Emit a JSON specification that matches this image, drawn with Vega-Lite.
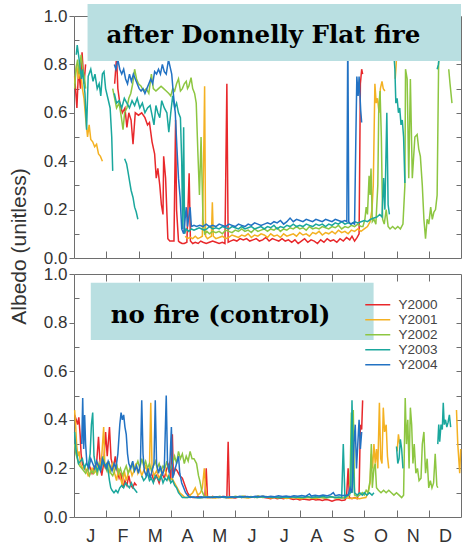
{
"$schema": "https://vega.github.io/schema/vega-lite/v6.json",
"padding": {"left": 8, "top": 3, "right": 0, "bottom": 0},
"background": "white",
"config": {
  "font": "Liberation Sans",
  "view": {"stroke": null},
  "axis": {"grid": false, "domainColor": "#6e6e6e", "tickColor": "#6e6e6e", "domainWidth": 1, "tickWidth": 1, "labelColor": "#333333", "labelFont": "Liberation Sans", "labelFontSize": 17, "titleFont": "Liberation Sans", "titleFontWeight": "normal", "titleColor": "#333333"},
  "line": {"strokeWidth": 1.5}
},
"datasets": {
"burned": [
{"m":0.02,"v":0.75,"yr":"Y2000","s":"a"},{"m":0.09,"v":0.62,"yr":"Y2000","s":"a"},{"m":0.14,"v":0.78,"yr":"Y2000","s":"a"},{"m":0.2,"v":0.7,"yr":"Y2000","s":"a"},{"m":0.25,"v":0.85,"yr":"Y2000","s":"a"},{"m":0.31,"v":0.72,"yr":"Y2000","s":"a"},{"m":0.36,"v":0.8,"yr":"Y2000","s":"a"},
{"m":1.26,"v":0.72,"yr":"Y2000","s":"b"},{"m":1.32,"v":0.83,"yr":"Y2000","s":"b"},{"m":1.36,"v":0.7,"yr":"Y2000","s":"b"},{"m":1.42,"v":0.64,"yr":"Y2000","s":"b"},{"m":1.5,"v":0.6,"yr":"Y2000","s":"b"},{"m":1.58,"v":0.62,"yr":"Y2000","s":"b"},{"m":1.64,"v":0.54,"yr":"Y2000","s":"b"},{"m":1.7,"v":0.6,"yr":"Y2000","s":"b"},{"m":1.77,"v":0.57,"yr":"Y2000","s":"b"},{"m":1.83,"v":0.47,"yr":"Y2000","s":"b"},{"m":1.9,"v":0.6,"yr":"Y2000","s":"b"},{"m":2.0,"v":0.59,"yr":"Y2000","s":"b"},{"m":2.1,"v":0.6,"yr":"Y2000","s":"b"},{"m":2.2,"v":0.58,"yr":"Y2000","s":"b"},{"m":2.28,"v":0.55,"yr":"Y2000","s":"b"},{"m":2.34,"v":0.56,"yr":"Y2000","s":"b"},{"m":2.42,"v":0.48,"yr":"Y2000","s":"b"},{"m":2.5,"v":0.43,"yr":"Y2000","s":"b"},{"m":2.55,"v":0.33,"yr":"Y2000","s":"b"},{"m":2.6,"v":0.37,"yr":"Y2000","s":"b"},{"m":2.66,"v":0.3,"yr":"Y2000","s":"b"},{"m":2.71,"v":0.22,"yr":"Y2000","s":"b"},{"m":2.76,"v":0.18,"yr":"Y2000","s":"b"},{"m":2.78,"v":0.42,"yr":"Y2000","s":"b"},{"m":2.84,"v":0.33,"yr":"Y2000","s":"b"},{"m":2.91,"v":0.08,"yr":"Y2000","s":"b"},{"m":2.97,"v":0.07,"yr":"Y2000","s":"b"},{"m":3.03,"v":0.07,"yr":"Y2000","s":"b"},{"m":3.1,"v":0.07,"yr":"Y2000","s":"b"},{"m":3.15,"v":0.57,"yr":"Y2000","s":"b"},{"m":3.18,"v":0.2,"yr":"Y2000","s":"b"},{"m":3.24,"v":0.07,"yr":"Y2000","s":"b"},{"m":3.28,"v":0.065,"yr":"Y2000","s":"b"},{"m":3.35,"v":0.06,"yr":"Y2000","s":"b"},{"m":3.42,"v":0.06,"yr":"Y2000","s":"b"},{"m":3.5,"v":0.065,"yr":"Y2000","s":"b"},{"m":3.57,"v":0.35,"yr":"Y2000","s":"b"},{"m":3.61,"v":0.07,"yr":"Y2000","s":"b"},{"m":3.68,"v":0.06,"yr":"Y2000","s":"b"},{"m":3.76,"v":0.065,"yr":"Y2000","s":"b"},{"m":3.85,"v":0.06,"yr":"Y2000","s":"b"},{"m":3.93,"v":0.07,"yr":"Y2000","s":"b"},{"m":4.0,"v":0.065,"yr":"Y2000","s":"b"},{"m":4.1,"v":0.06,"yr":"Y2000","s":"b"},{"m":4.2,"v":0.065,"yr":"Y2000","s":"b"},{"m":4.3,"v":0.07,"yr":"Y2000","s":"b"},{"m":4.4,"v":0.065,"yr":"Y2000","s":"b"},{"m":4.5,"v":0.06,"yr":"Y2000","s":"b"},{"m":4.6,"v":0.065,"yr":"Y2000","s":"b"},{"m":4.68,"v":0.06,"yr":"Y2000","s":"b"},{"m":4.74,"v":0.72,"yr":"Y2000","s":"b"},{"m":4.78,"v":0.065,"yr":"Y2000","s":"b"},{"m":4.85,"v":0.07,"yr":"Y2000","s":"b"},{"m":4.95,"v":0.075,"yr":"Y2000","s":"b"},{"m":5.05,"v":0.07,"yr":"Y2000","s":"b"},{"m":5.15,"v":0.08,"yr":"Y2000","s":"b"},{"m":5.25,"v":0.075,"yr":"Y2000","s":"b"},{"m":5.35,"v":0.08,"yr":"Y2000","s":"b"},{"m":5.45,"v":0.07,"yr":"Y2000","s":"b"},{"m":5.55,"v":0.075,"yr":"Y2000","s":"b"},{"m":5.65,"v":0.08,"yr":"Y2000","s":"b"},{"m":5.75,"v":0.07,"yr":"Y2000","s":"b"},{"m":5.85,"v":0.075,"yr":"Y2000","s":"b"},{"m":5.95,"v":0.085,"yr":"Y2000","s":"b"},{"m":6.05,"v":0.07,"yr":"Y2000","s":"b"},{"m":6.15,"v":0.08,"yr":"Y2000","s":"b"},{"m":6.25,"v":0.075,"yr":"Y2000","s":"b"},{"m":6.35,"v":0.07,"yr":"Y2000","s":"b"},{"m":6.45,"v":0.08,"yr":"Y2000","s":"b"},{"m":6.55,"v":0.07,"yr":"Y2000","s":"b"},{"m":6.65,"v":0.075,"yr":"Y2000","s":"b"},{"m":6.75,"v":0.065,"yr":"Y2000","s":"b"},{"m":6.85,"v":0.075,"yr":"Y2000","s":"b"},{"m":6.95,"v":0.06,"yr":"Y2000","s":"b"},{"m":7.05,"v":0.07,"yr":"Y2000","s":"b"},{"m":7.15,"v":0.08,"yr":"Y2000","s":"b"},{"m":7.25,"v":0.065,"yr":"Y2000","s":"b"},{"m":7.35,"v":0.075,"yr":"Y2000","s":"b"},{"m":7.45,"v":0.07,"yr":"Y2000","s":"b"},{"m":7.55,"v":0.06,"yr":"Y2000","s":"b"},{"m":7.65,"v":0.075,"yr":"Y2000","s":"b"},{"m":7.75,"v":0.065,"yr":"Y2000","s":"b"},{"m":7.85,"v":0.08,"yr":"Y2000","s":"b"},{"m":7.95,"v":0.07,"yr":"Y2000","s":"b"},{"m":8.05,"v":0.075,"yr":"Y2000","s":"b"},{"m":8.15,"v":0.065,"yr":"Y2000","s":"b"},{"m":8.25,"v":0.08,"yr":"Y2000","s":"b"},{"m":8.35,"v":0.07,"yr":"Y2000","s":"b"},{"m":8.45,"v":0.085,"yr":"Y2000","s":"b"},{"m":8.55,"v":0.075,"yr":"Y2000","s":"b"},{"m":8.62,"v":0.09,"yr":"Y2000","s":"b"},{"m":8.7,"v":0.07,"yr":"Y2000","s":"b"},{"m":8.78,"v":0.085,"yr":"Y2000","s":"b"},{"m":8.84,"v":0.1,"yr":"Y2000","s":"b"},{"m":8.88,"v":0.72,"yr":"Y2000","s":"b"},{"m":8.92,"v":0.78,"yr":"Y2000","s":"b"},{"m":8.95,"v":0.76,"yr":"Y2000","s":"b"},
{"m":0.02,"v":0.72,"yr":"Y2001","s":"a"},{"m":0.08,"v":0.8,"yr":"Y2001","s":"a"},{"m":0.14,"v":0.74,"yr":"Y2001","s":"a"},{"m":0.2,"v":0.78,"yr":"Y2001","s":"a"},{"m":0.26,"v":0.7,"yr":"Y2001","s":"a"},{"m":0.31,"v":0.66,"yr":"Y2001","s":"a"},{"m":0.36,"v":0.58,"yr":"Y2001","s":"a"},{"m":0.42,"v":0.5,"yr":"Y2001","s":"a"},{"m":0.47,"v":0.55,"yr":"Y2001","s":"a"},{"m":0.52,"v":0.49,"yr":"Y2001","s":"a"},{"m":0.58,"v":0.48,"yr":"Y2001","s":"a"},{"m":0.64,"v":0.46,"yr":"Y2001","s":"a"},{"m":0.7,"v":0.47,"yr":"Y2001","s":"a"},{"m":0.76,"v":0.43,"yr":"Y2001","s":"a"},{"m":0.82,"v":0.42,"yr":"Y2001","s":"a"},{"m":0.88,"v":0.4,"yr":"Y2001","s":"a"},
{"m":3.45,"v":0.09,"yr":"Y2001","s":"b"},{"m":3.52,"v":0.08,"yr":"Y2001","s":"b"},{"m":3.6,"v":0.085,"yr":"Y2001","s":"b"},{"m":3.68,"v":0.08,"yr":"Y2001","s":"b"},{"m":3.76,"v":0.09,"yr":"Y2001","s":"b"},{"m":3.84,"v":0.08,"yr":"Y2001","s":"b"},{"m":3.92,"v":0.085,"yr":"Y2001","s":"b"},{"m":3.98,"v":0.09,"yr":"Y2001","s":"b"},{"m":4.03,"v":0.5,"yr":"Y2001","s":"b"},{"m":4.05,"v":0.71,"yr":"Y2001","s":"b"},{"m":4.08,"v":0.09,"yr":"Y2001","s":"b"},{"m":4.14,"v":0.08,"yr":"Y2001","s":"b"},{"m":4.2,"v":0.085,"yr":"Y2001","s":"b"},{"m":4.26,"v":0.09,"yr":"Y2001","s":"b"},{"m":4.29,"v":0.23,"yr":"Y2001","s":"b"},{"m":4.32,"v":0.09,"yr":"Y2001","s":"b"},{"m":4.4,"v":0.08,"yr":"Y2001","s":"b"},{"m":4.5,"v":0.085,"yr":"Y2001","s":"b"},{"m":4.6,"v":0.09,"yr":"Y2001","s":"b"},{"m":4.7,"v":0.08,"yr":"Y2001","s":"b"},{"m":4.8,"v":0.085,"yr":"Y2001","s":"b"},{"m":4.9,"v":0.095,"yr":"Y2001","s":"b"},{"m":5.0,"v":0.09,"yr":"Y2001","s":"b"},{"m":5.1,"v":0.085,"yr":"Y2001","s":"b"},{"m":5.2,"v":0.095,"yr":"Y2001","s":"b"},{"m":5.3,"v":0.09,"yr":"Y2001","s":"b"},{"m":5.4,"v":0.1,"yr":"Y2001","s":"b"},{"m":5.5,"v":0.085,"yr":"Y2001","s":"b"},{"m":5.6,"v":0.095,"yr":"Y2001","s":"b"},{"m":5.7,"v":0.09,"yr":"Y2001","s":"b"},{"m":5.8,"v":0.1,"yr":"Y2001","s":"b"},{"m":5.9,"v":0.095,"yr":"Y2001","s":"b"},{"m":6.0,"v":0.085,"yr":"Y2001","s":"b"},{"m":6.1,"v":0.1,"yr":"Y2001","s":"b"},{"m":6.2,"v":0.09,"yr":"Y2001","s":"b"},{"m":6.3,"v":0.095,"yr":"Y2001","s":"b"},{"m":6.4,"v":0.085,"yr":"Y2001","s":"b"},{"m":6.5,"v":0.1,"yr":"Y2001","s":"b"},{"m":6.6,"v":0.09,"yr":"Y2001","s":"b"},{"m":6.7,"v":0.095,"yr":"Y2001","s":"b"},{"m":6.8,"v":0.1,"yr":"Y2001","s":"b"},{"m":6.9,"v":0.09,"yr":"Y2001","s":"b"},{"m":7.0,"v":0.105,"yr":"Y2001","s":"b"},{"m":7.1,"v":0.095,"yr":"Y2001","s":"b"},{"m":7.2,"v":0.1,"yr":"Y2001","s":"b"},{"m":7.3,"v":0.09,"yr":"Y2001","s":"b"},{"m":7.4,"v":0.105,"yr":"Y2001","s":"b"},{"m":7.5,"v":0.1,"yr":"Y2001","s":"b"},{"m":7.6,"v":0.11,"yr":"Y2001","s":"b"},{"m":7.7,"v":0.095,"yr":"Y2001","s":"b"},{"m":7.8,"v":0.105,"yr":"Y2001","s":"b"},{"m":7.9,"v":0.1,"yr":"Y2001","s":"b"},{"m":8.0,"v":0.11,"yr":"Y2001","s":"b"},{"m":8.1,"v":0.1,"yr":"Y2001","s":"b"},{"m":8.2,"v":0.115,"yr":"Y2001","s":"b"},{"m":8.3,"v":0.105,"yr":"Y2001","s":"b"},{"m":8.4,"v":0.11,"yr":"Y2001","s":"b"},{"m":8.5,"v":0.1,"yr":"Y2001","s":"b"},{"m":8.6,"v":0.115,"yr":"Y2001","s":"b"},{"m":8.7,"v":0.11,"yr":"Y2001","s":"b"},{"m":8.8,"v":0.12,"yr":"Y2001","s":"b"},{"m":8.9,"v":0.11,"yr":"Y2001","s":"b"},{"m":9.0,"v":0.12,"yr":"Y2001","s":"b"},{"m":9.1,"v":0.13,"yr":"Y2001","s":"b"},{"m":9.18,"v":0.15,"yr":"Y2001","s":"b"},{"m":9.24,"v":0.2,"yr":"Y2001","s":"b"},{"m":9.28,"v":0.3,"yr":"Y2001","s":"b"},{"m":9.33,"v":0.72,"yr":"Y2001","s":"b"},{"m":9.37,"v":0.64,"yr":"Y2001","s":"b"},{"m":9.41,"v":0.66,"yr":"Y2001","s":"b"},{"m":9.46,"v":0.6,"yr":"Y2001","s":"b"},{"m":9.5,"v":0.7,"yr":"Y2001","s":"b"},{"m":9.55,"v":0.73,"yr":"Y2001","s":"b"},{"m":9.59,"v":0.7,"yr":"Y2001","s":"b"},{"m":9.64,"v":0.69,"yr":"Y2001","s":"b"},
{"m":9.96,"v":0.74,"yr":"Y2001","s":"c"},{"m":9.99,"v":0.8,"yr":"Y2001","s":"c"},{"m":10.03,"v":0.9,"yr":"Y2001","s":"c"},
{"m":0.02,"v":0.7,"yr":"Y2002","s":"a"},{"m":0.06,"v":0.78,"yr":"Y2002","s":"a"},{"m":0.11,"v":0.82,"yr":"Y2002","s":"a"},{"m":0.16,"v":0.76,"yr":"Y2002","s":"a"},{"m":0.22,"v":0.84,"yr":"Y2002","s":"a"},{"m":0.27,"v":0.78,"yr":"Y2002","s":"a"},{"m":0.32,"v":0.75,"yr":"Y2002","s":"a"},{"m":0.36,"v":0.7,"yr":"Y2002","s":"a"},
{"m":1.2,"v":0.7,"yr":"Y2002","s":"b"},{"m":1.26,"v":0.66,"yr":"Y2002","s":"b"},{"m":1.32,"v":0.62,"yr":"Y2002","s":"b"},{"m":1.4,"v":0.64,"yr":"Y2002","s":"b"},{"m":1.47,"v":0.58,"yr":"Y2002","s":"b"},{"m":1.52,"v":0.53,"yr":"Y2002","s":"b"},{"m":1.57,"v":0.6,"yr":"Y2002","s":"b"},{"m":1.64,"v":0.62,"yr":"Y2002","s":"b"},{"m":1.7,"v":0.66,"yr":"Y2002","s":"b"},{"m":1.76,"v":0.68,"yr":"Y2002","s":"b"},{"m":1.82,"v":0.72,"yr":"Y2002","s":"b"},{"m":1.88,"v":0.78,"yr":"Y2002","s":"b"},{"m":1.94,"v":0.74,"yr":"Y2002","s":"b"},{"m":2.0,"v":0.72,"yr":"Y2002","s":"b"},{"m":2.08,"v":0.71,"yr":"Y2002","s":"b"},{"m":2.16,"v":0.69,"yr":"Y2002","s":"b"},{"m":2.24,"v":0.7,"yr":"Y2002","s":"b"},{"m":2.32,"v":0.68,"yr":"Y2002","s":"b"},{"m":2.4,"v":0.76,"yr":"Y2002","s":"b"},{"m":2.46,"v":0.7,"yr":"Y2002","s":"b"},{"m":2.54,"v":0.69,"yr":"Y2002","s":"b"},{"m":2.62,"v":0.7,"yr":"Y2002","s":"b"},{"m":2.7,"v":0.71,"yr":"Y2002","s":"b"},{"m":2.78,"v":0.7,"yr":"Y2002","s":"b"},{"m":2.86,"v":0.69,"yr":"Y2002","s":"b"},{"m":2.94,"v":0.68,"yr":"Y2002","s":"b"},{"m":3.0,"v":0.67,"yr":"Y2002","s":"b"},{"m":3.06,"v":0.7,"yr":"Y2002","s":"b"},{"m":3.12,"v":0.69,"yr":"Y2002","s":"b"},{"m":3.18,"v":0.72,"yr":"Y2002","s":"b"},{"m":3.24,"v":0.74,"yr":"Y2002","s":"b"},{"m":3.3,"v":0.69,"yr":"Y2002","s":"b"},{"m":3.36,"v":0.7,"yr":"Y2002","s":"b"},{"m":3.42,"v":0.72,"yr":"Y2002","s":"b"},{"m":3.48,"v":0.73,"yr":"Y2002","s":"b"},{"m":3.52,"v":0.7,"yr":"Y2002","s":"b"},{"m":3.56,"v":0.71,"yr":"Y2002","s":"b"},{"m":3.63,"v":0.745,"yr":"Y2002","s":"b"},{"m":3.68,"v":0.7,"yr":"Y2002","s":"b"},{"m":3.74,"v":0.68,"yr":"Y2002","s":"b"},{"m":3.79,"v":0.64,"yr":"Y2002","s":"b"},{"m":3.84,"v":0.44,"yr":"Y2002","s":"b"},{"m":3.89,"v":0.26,"yr":"Y2002","s":"b"},{"m":3.94,"v":0.5,"yr":"Y2002","s":"b"},{"m":4.0,"v":0.16,"yr":"Y2002","s":"b"},{"m":4.05,"v":0.1,"yr":"Y2002","s":"b"},{"m":4.12,"v":0.11,"yr":"Y2002","s":"b"},{"m":4.2,"v":0.1,"yr":"Y2002","s":"b"},{"m":4.3,"v":0.11,"yr":"Y2002","s":"b"},{"m":4.4,"v":0.105,"yr":"Y2002","s":"b"},{"m":4.5,"v":0.11,"yr":"Y2002","s":"b"},{"m":4.6,"v":0.1,"yr":"Y2002","s":"b"},{"m":4.7,"v":0.115,"yr":"Y2002","s":"b"},{"m":4.8,"v":0.11,"yr":"Y2002","s":"b"},{"m":4.9,"v":0.105,"yr":"Y2002","s":"b"},{"m":5.0,"v":0.115,"yr":"Y2002","s":"b"},{"m":5.1,"v":0.11,"yr":"Y2002","s":"b"},{"m":5.2,"v":0.12,"yr":"Y2002","s":"b"},{"m":5.3,"v":0.11,"yr":"Y2002","s":"b"},{"m":5.4,"v":0.115,"yr":"Y2002","s":"b"},{"m":5.5,"v":0.105,"yr":"Y2002","s":"b"},{"m":5.6,"v":0.12,"yr":"Y2002","s":"b"},{"m":5.7,"v":0.11,"yr":"Y2002","s":"b"},{"m":5.8,"v":0.115,"yr":"Y2002","s":"b"},{"m":5.9,"v":0.12,"yr":"Y2002","s":"b"},{"m":6.0,"v":0.11,"yr":"Y2002","s":"b"},{"m":6.1,"v":0.12,"yr":"Y2002","s":"b"},{"m":6.2,"v":0.115,"yr":"Y2002","s":"b"},{"m":6.3,"v":0.125,"yr":"Y2002","s":"b"},{"m":6.4,"v":0.11,"yr":"Y2002","s":"b"},{"m":6.5,"v":0.12,"yr":"Y2002","s":"b"},{"m":6.6,"v":0.115,"yr":"Y2002","s":"b"},{"m":6.7,"v":0.125,"yr":"Y2002","s":"b"},{"m":6.8,"v":0.12,"yr":"Y2002","s":"b"},{"m":6.9,"v":0.13,"yr":"Y2002","s":"b"},{"m":7.0,"v":0.12,"yr":"Y2002","s":"b"},{"m":7.1,"v":0.125,"yr":"Y2002","s":"b"},{"m":7.2,"v":0.115,"yr":"Y2002","s":"b"},{"m":7.3,"v":0.13,"yr":"Y2002","s":"b"},{"m":7.4,"v":0.12,"yr":"Y2002","s":"b"},{"m":7.5,"v":0.125,"yr":"Y2002","s":"b"},{"m":7.6,"v":0.12,"yr":"Y2002","s":"b"},{"m":7.7,"v":0.13,"yr":"Y2002","s":"b"},{"m":7.8,"v":0.125,"yr":"Y2002","s":"b"},{"m":7.9,"v":0.12,"yr":"Y2002","s":"b"},{"m":8.0,"v":0.13,"yr":"Y2002","s":"b"},{"m":8.1,"v":0.125,"yr":"Y2002","s":"b"},{"m":8.2,"v":0.135,"yr":"Y2002","s":"b"},{"m":8.3,"v":0.12,"yr":"Y2002","s":"b"},{"m":8.4,"v":0.13,"yr":"Y2002","s":"b"},{"m":8.5,"v":0.125,"yr":"Y2002","s":"b"},{"m":8.6,"v":0.135,"yr":"Y2002","s":"b"},{"m":8.7,"v":0.13,"yr":"Y2002","s":"b"},{"m":8.8,"v":0.14,"yr":"Y2002","s":"b"},{"m":8.9,"v":0.13,"yr":"Y2002","s":"b"},{"m":8.96,"v":0.13,"yr":"Y2002","s":"b"},{"m":9.02,"v":0.16,"yr":"Y2002","s":"b"},{"m":9.06,"v":0.21,"yr":"Y2002","s":"b"},{"m":9.1,"v":0.18,"yr":"Y2002","s":"b"},{"m":9.15,"v":0.34,"yr":"Y2002","s":"b"},{"m":9.18,"v":0.26,"yr":"Y2002","s":"b"},{"m":9.21,"v":0.37,"yr":"Y2002","s":"b"},{"m":9.25,"v":0.15,"yr":"Y2002","s":"b"},{"m":9.3,"v":0.16,"yr":"Y2002","s":"b"},{"m":9.36,"v":0.14,"yr":"Y2002","s":"b"},{"m":9.42,"v":0.3,"yr":"Y2002","s":"b"},{"m":9.45,"v":0.62,"yr":"Y2002","s":"b"},{"m":9.49,"v":0.69,"yr":"Y2002","s":"b"},{"m":9.53,"v":0.5,"yr":"Y2002","s":"b"},{"m":9.57,"v":0.16,"yr":"Y2002","s":"b"},{"m":9.62,"v":0.14,"yr":"Y2002","s":"b"},{"m":9.68,"v":0.2,"yr":"Y2002","s":"b"},{"m":9.74,"v":0.13,"yr":"Y2002","s":"b"},{"m":9.8,"v":0.12,"yr":"Y2002","s":"b"},{"m":9.88,"v":0.13,"yr":"Y2002","s":"b"},{"m":9.96,"v":0.12,"yr":"Y2002","s":"b"},{"m":10.04,"v":0.13,"yr":"Y2002","s":"b"},{"m":10.12,"v":0.12,"yr":"Y2002","s":"b"},{"m":10.2,"v":0.14,"yr":"Y2002","s":"b"},{"m":10.26,"v":0.3,"yr":"Y2002","s":"b"},{"m":10.28,"v":0.78,"yr":"Y2002","s":"b"},{"m":10.33,"v":0.74,"yr":"Y2002","s":"b"},{"m":10.38,"v":0.33,"yr":"Y2002","s":"b"},{"m":10.43,"v":0.74,"yr":"Y2002","s":"b"},{"m":10.49,"v":0.33,"yr":"Y2002","s":"b"},{"m":10.57,"v":0.5,"yr":"Y2002","s":"b"},{"m":10.64,"v":0.51,"yr":"Y2002","s":"b"},{"m":10.69,"v":0.45,"yr":"Y2002","s":"b"},{"m":10.74,"v":0.42,"yr":"Y2002","s":"b"},{"m":10.8,"v":0.3,"yr":"Y2002","s":"b"},{"m":10.85,"v":0.16,"yr":"Y2002","s":"b"},{"m":10.9,"v":0.08,"yr":"Y2002","s":"b"},{"m":10.95,"v":0.16,"yr":"Y2002","s":"b"},{"m":11.0,"v":0.14,"yr":"Y2002","s":"b"},{"m":11.06,"v":0.21,"yr":"Y2002","s":"b"},{"m":11.11,"v":0.16,"yr":"Y2002","s":"b"},{"m":11.16,"v":0.19,"yr":"Y2002","s":"b"},{"m":11.21,"v":0.2,"yr":"Y2002","s":"b"},{"m":11.26,"v":0.26,"yr":"Y2002","s":"b"},{"m":11.31,"v":0.85,"yr":"Y2002","s":"b"},
{"m":11.62,"v":0.78,"yr":"Y2002","s":"c"},{"m":11.66,"v":0.72,"yr":"Y2002","s":"c"},{"m":11.72,"v":0.64,"yr":"Y2002","s":"c"},
{"m":0.07,"v":0.84,"yr":"Y2003","s":"a"},{"m":0.1,"v":0.88,"yr":"Y2003","s":"a"},{"m":0.17,"v":0.81,"yr":"Y2003","s":"a"},{"m":0.23,"v":0.74,"yr":"Y2003","s":"a"},{"m":0.26,"v":0.78,"yr":"Y2003","s":"a"},{"m":0.34,"v":0.68,"yr":"Y2003","s":"a"},{"m":0.39,"v":0.53,"yr":"Y2003","s":"a"},{"m":0.44,"v":0.75,"yr":"Y2003","s":"a"},{"m":0.52,"v":0.78,"yr":"Y2003","s":"a"},{"m":0.59,"v":0.73,"yr":"Y2003","s":"a"},{"m":0.65,"v":0.76,"yr":"Y2003","s":"a"},{"m":0.72,"v":0.7,"yr":"Y2003","s":"a"},{"m":0.78,"v":0.72,"yr":"Y2003","s":"a"},{"m":0.83,"v":0.67,"yr":"Y2003","s":"a"},{"m":0.88,"v":0.76,"yr":"Y2003","s":"a"},{"m":0.93,"v":0.77,"yr":"Y2003","s":"a"},{"m":0.98,"v":0.7,"yr":"Y2003","s":"a"},{"m":1.05,"v":0.66,"yr":"Y2003","s":"a"},{"m":1.12,"v":0.62,"yr":"Y2003","s":"a"},{"m":1.17,"v":0.5,"yr":"Y2003","s":"a"},{"m":1.2,"v":0.36,"yr":"Y2003","s":"a"},
{"m":1.57,"v":0.41,"yr":"Y2003","s":"b"},{"m":1.6,"v":0.4,"yr":"Y2003","s":"b"},{"m":1.63,"v":0.39,"yr":"Y2003","s":"b"},{"m":1.67,"v":0.36,"yr":"Y2003","s":"b"},{"m":1.72,"v":0.32,"yr":"Y2003","s":"b"},{"m":1.77,"v":0.28,"yr":"Y2003","s":"b"},{"m":1.83,"v":0.25,"yr":"Y2003","s":"b"},{"m":1.88,"v":0.21,"yr":"Y2003","s":"b"},{"m":1.93,"v":0.19,"yr":"Y2003","s":"b"},{"m":1.98,"v":0.16,"yr":"Y2003","s":"b"},
{"m":1.25,"v":0.68,"yr":"Y2003","s":"c"},{"m":1.32,"v":0.64,"yr":"Y2003","s":"c"},{"m":1.4,"v":0.65,"yr":"Y2003","s":"c"},{"m":1.48,"v":0.62,"yr":"Y2003","s":"c"},{"m":1.56,"v":0.66,"yr":"Y2003","s":"c"},{"m":1.64,"v":0.64,"yr":"Y2003","s":"c"},{"m":1.72,"v":0.62,"yr":"Y2003","s":"c"},{"m":1.8,"v":0.65,"yr":"Y2003","s":"c"},{"m":1.88,"v":0.63,"yr":"Y2003","s":"c"},{"m":1.96,"v":0.66,"yr":"Y2003","s":"c"},{"m":2.04,"v":0.62,"yr":"Y2003","s":"c"},{"m":2.12,"v":0.64,"yr":"Y2003","s":"c"},{"m":2.2,"v":0.6,"yr":"Y2003","s":"c"},{"m":2.28,"v":0.62,"yr":"Y2003","s":"c"},{"m":2.36,"v":0.63,"yr":"Y2003","s":"c"},{"m":2.42,"v":0.59,"yr":"Y2003","s":"c"},{"m":2.48,"v":0.55,"yr":"Y2003","s":"c"},{"m":2.54,"v":0.63,"yr":"Y2003","s":"c"},{"m":2.6,"v":0.6,"yr":"Y2003","s":"c"},{"m":2.66,"v":0.58,"yr":"Y2003","s":"c"},{"m":2.72,"v":0.65,"yr":"Y2003","s":"c"},{"m":2.8,"v":0.62,"yr":"Y2003","s":"c"},{"m":2.88,"v":0.6,"yr":"Y2003","s":"c"},{"m":2.94,"v":0.52,"yr":"Y2003","s":"c"},{"m":3.0,"v":0.6,"yr":"Y2003","s":"c"},{"m":3.06,"v":0.67,"yr":"Y2003","s":"c"},{"m":3.12,"v":0.62,"yr":"Y2003","s":"c"},{"m":3.18,"v":0.64,"yr":"Y2003","s":"c"},{"m":3.24,"v":0.6,"yr":"Y2003","s":"c"},{"m":3.3,"v":0.58,"yr":"Y2003","s":"c"},{"m":3.34,"v":0.4,"yr":"Y2003","s":"c"},{"m":3.37,"v":0.12,"yr":"Y2003","s":"c"},{"m":3.4,"v":0.54,"yr":"Y2003","s":"c"},{"m":3.43,"v":0.1,"yr":"Y2003","s":"c"},{"m":3.48,"v":0.12,"yr":"Y2003","s":"c"},{"m":3.56,"v":0.11,"yr":"Y2003","s":"c"},{"m":3.64,"v":0.12,"yr":"Y2003","s":"c"},{"m":3.72,"v":0.115,"yr":"Y2003","s":"c"},{"m":3.8,"v":0.12,"yr":"Y2003","s":"c"},{"m":3.88,"v":0.125,"yr":"Y2003","s":"c"},{"m":3.96,"v":0.12,"yr":"Y2003","s":"c"},{"m":4.04,"v":0.115,"yr":"Y2003","s":"c"},{"m":4.12,"v":0.12,"yr":"Y2003","s":"c"},{"m":4.2,"v":0.13,"yr":"Y2003","s":"c"},{"m":4.3,"v":0.12,"yr":"Y2003","s":"c"},{"m":4.4,"v":0.125,"yr":"Y2003","s":"c"},{"m":4.5,"v":0.12,"yr":"Y2003","s":"c"},{"m":4.6,"v":0.13,"yr":"Y2003","s":"c"},{"m":4.7,"v":0.125,"yr":"Y2003","s":"c"},{"m":4.8,"v":0.12,"yr":"Y2003","s":"c"},{"m":4.9,"v":0.13,"yr":"Y2003","s":"c"},{"m":5.0,"v":0.125,"yr":"Y2003","s":"c"},{"m":5.1,"v":0.12,"yr":"Y2003","s":"c"},{"m":5.2,"v":0.13,"yr":"Y2003","s":"c"},{"m":5.3,"v":0.12,"yr":"Y2003","s":"c"},{"m":5.4,"v":0.125,"yr":"Y2003","s":"c"},{"m":5.5,"v":0.13,"yr":"Y2003","s":"c"},{"m":5.6,"v":0.12,"yr":"Y2003","s":"c"},{"m":5.7,"v":0.125,"yr":"Y2003","s":"c"},{"m":5.8,"v":0.13,"yr":"Y2003","s":"c"},{"m":5.9,"v":0.12,"yr":"Y2003","s":"c"},{"m":6.0,"v":0.13,"yr":"Y2003","s":"c"},{"m":6.1,"v":0.125,"yr":"Y2003","s":"c"},{"m":6.2,"v":0.135,"yr":"Y2003","s":"c"},{"m":6.3,"v":0.12,"yr":"Y2003","s":"c"},{"m":6.4,"v":0.13,"yr":"Y2003","s":"c"},{"m":6.5,"v":0.125,"yr":"Y2003","s":"c"},{"m":6.6,"v":0.135,"yr":"Y2003","s":"c"},{"m":6.7,"v":0.13,"yr":"Y2003","s":"c"},{"m":6.8,"v":0.14,"yr":"Y2003","s":"c"},{"m":6.9,"v":0.13,"yr":"Y2003","s":"c"},{"m":7.0,"v":0.135,"yr":"Y2003","s":"c"},{"m":7.1,"v":0.13,"yr":"Y2003","s":"c"},{"m":7.2,"v":0.14,"yr":"Y2003","s":"c"},{"m":7.3,"v":0.135,"yr":"Y2003","s":"c"},{"m":7.4,"v":0.13,"yr":"Y2003","s":"c"},{"m":7.5,"v":0.14,"yr":"Y2003","s":"c"},{"m":7.6,"v":0.135,"yr":"Y2003","s":"c"},{"m":7.7,"v":0.14,"yr":"Y2003","s":"c"},{"m":7.8,"v":0.13,"yr":"Y2003","s":"c"},{"m":7.9,"v":0.14,"yr":"Y2003","s":"c"},{"m":8.0,"v":0.135,"yr":"Y2003","s":"c"},{"m":8.1,"v":0.145,"yr":"Y2003","s":"c"},{"m":8.2,"v":0.14,"yr":"Y2003","s":"c"},{"m":8.3,"v":0.15,"yr":"Y2003","s":"c"},{"m":8.4,"v":0.14,"yr":"Y2003","s":"c"},{"m":8.5,"v":0.145,"yr":"Y2003","s":"c"},{"m":8.6,"v":0.14,"yr":"Y2003","s":"c"},{"m":8.7,"v":0.15,"yr":"Y2003","s":"c"},{"m":8.8,"v":0.145,"yr":"Y2003","s":"c"},{"m":8.9,"v":0.15,"yr":"Y2003","s":"c"},{"m":9.0,"v":0.155,"yr":"Y2003","s":"c"},{"m":9.1,"v":0.15,"yr":"Y2003","s":"c"},{"m":9.2,"v":0.16,"yr":"Y2003","s":"c"},{"m":9.3,"v":0.165,"yr":"Y2003","s":"c"},{"m":9.4,"v":0.17,"yr":"Y2003","s":"c"},{"m":9.48,"v":0.18,"yr":"Y2003","s":"c"},{"m":9.55,"v":0.17,"yr":"Y2003","s":"c"},{"m":9.6,"v":0.33,"yr":"Y2003","s":"c"},{"m":9.64,"v":0.2,"yr":"Y2003","s":"c"},{"m":9.7,"v":0.6,"yr":"Y2003","s":"c"},{"m":9.74,"v":0.22,"yr":"Y2003","s":"c"},{"m":9.78,"v":0.18,"yr":"Y2003","s":"c"},
{"m":9.92,"v":0.84,"yr":"Y2003","s":"d"},{"m":9.95,"v":0.78,"yr":"Y2003","s":"d"},{"m":9.98,"v":0.64,"yr":"Y2003","s":"d"},{"m":10.02,"v":0.66,"yr":"Y2003","s":"d"},{"m":10.06,"v":0.6,"yr":"Y2003","s":"d"},{"m":10.1,"v":0.62,"yr":"Y2003","s":"d"},{"m":10.14,"v":0.55,"yr":"Y2003","s":"d"},{"m":10.18,"v":0.57,"yr":"Y2003","s":"d"},{"m":10.22,"v":0.5,"yr":"Y2003","s":"d"},{"m":10.26,"v":0.31,"yr":"Y2003","s":"d"},
{"m":11.26,"v":0.78,"yr":"Y2003","s":"e"},{"m":11.3,"v":0.8,"yr":"Y2003","s":"e"},{"m":11.35,"v":0.86,"yr":"Y2003","s":"e"},
{"m":1.25,"v":0.8,"yr":"Y2004","s":"a"},{"m":1.3,"v":0.78,"yr":"Y2004","s":"a"},{"m":1.36,"v":0.82,"yr":"Y2004","s":"a"},{"m":1.42,"v":0.78,"yr":"Y2004","s":"a"},{"m":1.48,"v":0.76,"yr":"Y2004","s":"a"},{"m":1.54,"v":0.78,"yr":"Y2004","s":"a"},{"m":1.6,"v":0.74,"yr":"Y2004","s":"a"},{"m":1.66,"v":0.72,"yr":"Y2004","s":"a"},{"m":1.72,"v":0.76,"yr":"Y2004","s":"a"},{"m":1.78,"v":0.73,"yr":"Y2004","s":"a"},{"m":1.84,"v":0.76,"yr":"Y2004","s":"a"},{"m":1.9,"v":0.74,"yr":"Y2004","s":"a"},{"m":1.96,"v":0.72,"yr":"Y2004","s":"a"},{"m":2.02,"v":0.7,"yr":"Y2004","s":"a"},{"m":2.08,"v":0.69,"yr":"Y2004","s":"a"},{"m":2.14,"v":0.7,"yr":"Y2004","s":"a"},{"m":2.2,"v":0.68,"yr":"Y2004","s":"a"},{"m":2.26,"v":0.7,"yr":"Y2004","s":"a"},{"m":2.32,"v":0.72,"yr":"Y2004","s":"a"},{"m":2.38,"v":0.74,"yr":"Y2004","s":"a"},{"m":2.44,"v":0.72,"yr":"Y2004","s":"a"},{"m":2.5,"v":0.77,"yr":"Y2004","s":"a"},{"m":2.56,"v":0.76,"yr":"Y2004","s":"a"},{"m":2.62,"v":0.78,"yr":"Y2004","s":"a"},{"m":2.68,"v":0.76,"yr":"Y2004","s":"a"},{"m":2.74,"v":0.8,"yr":"Y2004","s":"a"},{"m":2.8,"v":0.77,"yr":"Y2004","s":"a"},{"m":2.86,"v":0.76,"yr":"Y2004","s":"a"},{"m":2.93,"v":0.82,"yr":"Y2004","s":"a"},{"m":2.98,"v":0.79,"yr":"Y2004","s":"a"},{"m":3.03,"v":0.76,"yr":"Y2004","s":"a"},{"m":3.08,"v":0.68,"yr":"Y2004","s":"a"},{"m":3.14,"v":0.6,"yr":"Y2004","s":"a"},{"m":3.19,"v":0.46,"yr":"Y2004","s":"a"},{"m":3.24,"v":0.33,"yr":"Y2004","s":"a"},{"m":3.29,"v":0.25,"yr":"Y2004","s":"a"},{"m":3.34,"v":0.12,"yr":"Y2004","s":"a"},{"m":3.4,"v":0.1,"yr":"Y2004","s":"a"},{"m":3.48,"v":0.21,"yr":"Y2004","s":"a"},{"m":3.52,"v":0.13,"yr":"Y2004","s":"a"},{"m":3.6,"v":0.21,"yr":"Y2004","s":"a"},{"m":3.64,"v":0.13,"yr":"Y2004","s":"a"},{"m":3.72,"v":0.135,"yr":"Y2004","s":"a"},{"m":3.8,"v":0.13,"yr":"Y2004","s":"a"},{"m":3.9,"v":0.135,"yr":"Y2004","s":"a"},{"m":4.0,"v":0.13,"yr":"Y2004","s":"a"},{"m":4.1,"v":0.14,"yr":"Y2004","s":"a"},{"m":4.2,"v":0.13,"yr":"Y2004","s":"a"},{"m":4.3,"v":0.135,"yr":"Y2004","s":"a"},{"m":4.4,"v":0.13,"yr":"Y2004","s":"a"},{"m":4.5,"v":0.14,"yr":"Y2004","s":"a"},{"m":4.6,"v":0.135,"yr":"Y2004","s":"a"},{"m":4.7,"v":0.13,"yr":"Y2004","s":"a"},{"m":4.8,"v":0.14,"yr":"Y2004","s":"a"},{"m":4.9,"v":0.135,"yr":"Y2004","s":"a"},{"m":5.0,"v":0.13,"yr":"Y2004","s":"a"},{"m":5.1,"v":0.14,"yr":"Y2004","s":"a"},{"m":5.2,"v":0.135,"yr":"Y2004","s":"a"},{"m":5.3,"v":0.13,"yr":"Y2004","s":"a"},{"m":5.4,"v":0.14,"yr":"Y2004","s":"a"},{"m":5.5,"v":0.135,"yr":"Y2004","s":"a"},{"m":5.6,"v":0.145,"yr":"Y2004","s":"a"},{"m":5.7,"v":0.14,"yr":"Y2004","s":"a"},{"m":5.8,"v":0.135,"yr":"Y2004","s":"a"},{"m":5.9,"v":0.14,"yr":"Y2004","s":"a"},{"m":6.0,"v":0.145,"yr":"Y2004","s":"a"},{"m":6.1,"v":0.14,"yr":"Y2004","s":"a"},{"m":6.2,"v":0.15,"yr":"Y2004","s":"a"},{"m":6.3,"v":0.145,"yr":"Y2004","s":"a"},{"m":6.4,"v":0.155,"yr":"Y2004","s":"a"},{"m":6.5,"v":0.14,"yr":"Y2004","s":"a"},{"m":6.6,"v":0.15,"yr":"Y2004","s":"a"},{"m":6.7,"v":0.165,"yr":"Y2004","s":"a"},{"m":6.8,"v":0.15,"yr":"Y2004","s":"a"},{"m":6.9,"v":0.16,"yr":"Y2004","s":"a"},{"m":7.0,"v":0.155,"yr":"Y2004","s":"a"},{"m":7.1,"v":0.15,"yr":"Y2004","s":"a"},{"m":7.2,"v":0.16,"yr":"Y2004","s":"a"},{"m":7.3,"v":0.155,"yr":"Y2004","s":"a"},{"m":7.4,"v":0.15,"yr":"Y2004","s":"a"},{"m":7.5,"v":0.16,"yr":"Y2004","s":"a"},{"m":7.6,"v":0.155,"yr":"Y2004","s":"a"},{"m":7.7,"v":0.15,"yr":"Y2004","s":"a"},{"m":7.8,"v":0.16,"yr":"Y2004","s":"a"},{"m":7.9,"v":0.155,"yr":"Y2004","s":"a"},{"m":8.0,"v":0.15,"yr":"Y2004","s":"a"},{"m":8.1,"v":0.16,"yr":"Y2004","s":"a"},{"m":8.2,"v":0.155,"yr":"Y2004","s":"a"},{"m":8.3,"v":0.15,"yr":"Y2004","s":"a"},{"m":8.4,"v":0.155,"yr":"Y2004","s":"a"},{"m":8.46,"v":0.15,"yr":"Y2004","s":"a"},{"m":8.49,"v":0.95,"yr":"Y2004","s":"a"},{"m":8.52,"v":0.15,"yr":"Y2004","s":"a"},{"m":8.58,"v":0.14,"yr":"Y2004","s":"a"},{"m":8.64,"v":0.145,"yr":"Y2004","s":"a"},{"m":8.7,"v":0.14,"yr":"Y2004","s":"a"},{"m":8.74,"v":0.5,"yr":"Y2004","s":"a"},{"m":8.77,"v":0.75,"yr":"Y2004","s":"a"},{"m":8.81,"v":0.67,"yr":"Y2004","s":"a"},{"m":8.84,"v":0.75,"yr":"Y2004","s":"a"},{"m":8.89,"v":0.61,"yr":"Y2004","s":"a"},{"m":8.92,"v":0.56,"yr":"Y2004","s":"a"}
],
"control": [
{"m":0.02,"v":0.42,"yr":"Y2000","s":"a"},{"m":0.07,"v":0.4,"yr":"Y2000","s":"a"},{"m":0.11,"v":0.38,"yr":"Y2000","s":"a"},{"m":0.15,"v":0.41,"yr":"Y2000","s":"a"},{"m":0.19,"v":0.34,"yr":"Y2000","s":"a"},{"m":0.22,"v":0.26,"yr":"Y2000","s":"a"},{"m":0.26,"v":0.22,"yr":"Y2000","s":"a"},{"m":0.32,"v":0.2,"yr":"Y2000","s":"a"},{"m":0.4,"v":0.19,"yr":"Y2000","s":"a"},{"m":0.48,"v":0.21,"yr":"Y2000","s":"a"},{"m":0.56,"v":0.18,"yr":"Y2000","s":"a"},{"m":0.62,"v":0.2,"yr":"Y2000","s":"a"},{"m":0.7,"v":0.22,"yr":"Y2000","s":"a"},{"m":0.76,"v":0.33,"yr":"Y2000","s":"a"},{"m":0.8,"v":0.24,"yr":"Y2000","s":"a"},{"m":0.86,"v":0.17,"yr":"Y2000","s":"a"},{"m":0.92,"v":0.22,"yr":"Y2000","s":"a"},{"m":0.98,"v":0.35,"yr":"Y2000","s":"a"},{"m":1.03,"v":0.25,"yr":"Y2000","s":"a"},{"m":1.1,"v":0.37,"yr":"Y2000","s":"a"},{"m":1.15,"v":0.24,"yr":"Y2000","s":"a"},{"m":1.22,"v":0.2,"yr":"Y2000","s":"a"},{"m":1.28,"v":0.25,"yr":"Y2000","s":"a"},{"m":1.34,"v":0.19,"yr":"Y2000","s":"a"},{"m":1.4,"v":0.16,"yr":"Y2000","s":"a"},{"m":1.46,"v":0.18,"yr":"Y2000","s":"a"},{"m":1.52,"v":0.12,"yr":"Y2000","s":"a"},{"m":1.58,"v":0.15,"yr":"Y2000","s":"a"},{"m":1.64,"v":0.13,"yr":"Y2000","s":"a"},{"m":1.7,"v":0.17,"yr":"Y2000","s":"a"},{"m":1.76,"v":0.13,"yr":"Y2000","s":"a"},{"m":1.82,"v":0.12,"yr":"Y2000","s":"a"},{"m":1.88,"v":0.14,"yr":"Y2000","s":"a"},{"m":1.94,"v":0.13,"yr":"Y2000","s":"a"},
{"m":2.4,"v":0.18,"yr":"Y2000","s":"b"},{"m":2.48,"v":0.15,"yr":"Y2000","s":"b"},{"m":2.56,"v":0.17,"yr":"Y2000","s":"b"},{"m":2.64,"v":0.14,"yr":"Y2000","s":"b"},{"m":2.72,"v":0.18,"yr":"Y2000","s":"b"},{"m":2.8,"v":0.16,"yr":"Y2000","s":"b"},{"m":2.88,"v":0.2,"yr":"Y2000","s":"b"},{"m":2.95,"v":0.22,"yr":"Y2000","s":"b"},{"m":3.0,"v":0.15,"yr":"Y2000","s":"b"},{"m":3.05,"v":0.34,"yr":"Y2000","s":"b"},{"m":3.08,"v":0.17,"yr":"Y2000","s":"b"},{"m":3.14,"v":0.2,"yr":"Y2000","s":"b"},{"m":3.2,"v":0.19,"yr":"Y2000","s":"b"},{"m":3.28,"v":0.17,"yr":"Y2000","s":"b"},{"m":3.36,"v":0.16,"yr":"Y2000","s":"b"},{"m":3.44,"v":0.13,"yr":"Y2000","s":"b"},{"m":3.52,"v":0.1,"yr":"Y2000","s":"b"},{"m":3.6,"v":0.085,"yr":"Y2000","s":"b"},{"m":3.68,"v":0.08,"yr":"Y2000","s":"b"},{"m":3.76,"v":0.08,"yr":"Y2000","s":"b"},{"m":3.84,"v":0.085,"yr":"Y2000","s":"b"},{"m":3.92,"v":0.08,"yr":"Y2000","s":"b"},{"m":4.0,"v":0.08,"yr":"Y2000","s":"b"},{"m":4.06,"v":0.085,"yr":"Y2000","s":"b"},{"m":4.1,"v":0.2,"yr":"Y2000","s":"b"},{"m":4.14,"v":0.08,"yr":"Y2000","s":"b"},{"m":4.22,"v":0.08,"yr":"Y2000","s":"b"},{"m":4.3,"v":0.085,"yr":"Y2000","s":"b"},{"m":4.38,"v":0.08,"yr":"Y2000","s":"b"},{"m":4.46,"v":0.082,"yr":"Y2000","s":"b"},{"m":4.54,"v":0.08,"yr":"Y2000","s":"b"},{"m":4.62,"v":0.085,"yr":"Y2000","s":"b"},{"m":4.7,"v":0.08,"yr":"Y2000","s":"b"},{"m":4.74,"v":0.08,"yr":"Y2000","s":"b"},{"m":4.78,"v":0.31,"yr":"Y2000","s":"b"},{"m":4.82,"v":0.08,"yr":"Y2000","s":"b"},{"m":4.9,"v":0.08,"yr":"Y2000","s":"b"},{"m":5.0,"v":0.078,"yr":"Y2000","s":"b"},{"m":5.1,"v":0.082,"yr":"Y2000","s":"b"},{"m":5.2,"v":0.08,"yr":"Y2000","s":"b"},{"m":5.3,"v":0.085,"yr":"Y2000","s":"b"},{"m":5.4,"v":0.08,"yr":"Y2000","s":"b"},{"m":5.5,"v":0.083,"yr":"Y2000","s":"b"},{"m":5.6,"v":0.08,"yr":"Y2000","s":"b"},{"m":5.7,"v":0.085,"yr":"Y2000","s":"b"},{"m":5.8,"v":0.082,"yr":"Y2000","s":"b"},{"m":5.9,"v":0.08,"yr":"Y2000","s":"b"},{"m":6.0,"v":0.078,"yr":"Y2000","s":"b"},{"m":6.1,"v":0.075,"yr":"Y2000","s":"b"},{"m":6.2,"v":0.08,"yr":"Y2000","s":"b"},{"m":6.3,"v":0.075,"yr":"Y2000","s":"b"},{"m":6.4,"v":0.078,"yr":"Y2000","s":"b"},{"m":6.5,"v":0.075,"yr":"Y2000","s":"b"},{"m":6.6,"v":0.08,"yr":"Y2000","s":"b"},{"m":6.7,"v":0.076,"yr":"Y2000","s":"b"},{"m":6.8,"v":0.072,"yr":"Y2000","s":"b"},{"m":6.9,"v":0.075,"yr":"Y2000","s":"b"},{"m":7.0,"v":0.07,"yr":"Y2000","s":"b"},{"m":7.1,"v":0.074,"yr":"Y2000","s":"b"},{"m":7.2,"v":0.072,"yr":"Y2000","s":"b"},{"m":7.3,"v":0.07,"yr":"Y2000","s":"b"},{"m":7.4,"v":0.074,"yr":"Y2000","s":"b"},{"m":7.5,"v":0.07,"yr":"Y2000","s":"b"},{"m":7.6,"v":0.072,"yr":"Y2000","s":"b"},{"m":7.7,"v":0.068,"yr":"Y2000","s":"b"},{"m":7.8,"v":0.072,"yr":"Y2000","s":"b"},{"m":7.9,"v":0.07,"yr":"Y2000","s":"b"},{"m":8.0,"v":0.065,"yr":"Y2000","s":"b"},{"m":8.1,"v":0.07,"yr":"Y2000","s":"b"},{"m":8.2,"v":0.072,"yr":"Y2000","s":"b"},{"m":8.3,"v":0.068,"yr":"Y2000","s":"b"},{"m":8.4,"v":0.07,"yr":"Y2000","s":"b"},{"m":8.45,"v":0.08,"yr":"Y2000","s":"b"},{"m":8.5,"v":0.2,"yr":"Y2000","s":"b"},{"m":8.54,"v":0.08,"yr":"Y2000","s":"b"},{"m":8.62,"v":0.075,"yr":"Y2000","s":"b"},{"m":8.7,"v":0.08,"yr":"Y2000","s":"b"},{"m":8.78,"v":0.075,"yr":"Y2000","s":"b"},{"m":8.84,"v":0.1,"yr":"Y2000","s":"b"},{"m":8.88,"v":0.38,"yr":"Y2000","s":"b"},{"m":8.92,"v":0.36,"yr":"Y2000","s":"b"},{"m":8.95,"v":0.48,"yr":"Y2000","s":"b"},
{"m":0.02,"v":0.44,"yr":"Y2001","s":"a"},{"m":0.05,"v":0.38,"yr":"Y2001","s":"a"},{"m":0.08,"v":0.3,"yr":"Y2001","s":"a"},{"m":0.12,"v":0.25,"yr":"Y2001","s":"a"},{"m":0.16,"v":0.27,"yr":"Y2001","s":"a"},{"m":0.2,"v":0.22,"yr":"Y2001","s":"a"},{"m":0.26,"v":0.2,"yr":"Y2001","s":"a"},{"m":0.32,"v":0.21,"yr":"Y2001","s":"a"},{"m":0.38,"v":0.19,"yr":"Y2001","s":"a"},{"m":0.44,"v":0.17,"yr":"Y2001","s":"a"},{"m":0.5,"v":0.18,"yr":"Y2001","s":"a"},{"m":0.56,"v":0.2,"yr":"Y2001","s":"a"},{"m":0.62,"v":0.18,"yr":"Y2001","s":"a"},{"m":0.68,"v":0.19,"yr":"Y2001","s":"a"},{"m":0.74,"v":0.22,"yr":"Y2001","s":"a"},{"m":0.8,"v":0.2,"yr":"Y2001","s":"a"},{"m":0.86,"v":0.25,"yr":"Y2001","s":"a"},{"m":0.92,"v":0.37,"yr":"Y2001","s":"a"},{"m":0.96,"v":0.2,"yr":"Y2001","s":"a"},{"m":1.02,"v":0.22,"yr":"Y2001","s":"a"},{"m":1.08,"v":0.18,"yr":"Y2001","s":"a"},{"m":1.14,"v":0.2,"yr":"Y2001","s":"a"},{"m":1.2,"v":0.22,"yr":"Y2001","s":"a"},{"m":1.26,"v":0.18,"yr":"Y2001","s":"a"},{"m":1.32,"v":0.15,"yr":"Y2001","s":"a"},{"m":1.38,"v":0.2,"yr":"Y2001","s":"a"},{"m":1.44,"v":0.16,"yr":"Y2001","s":"a"},{"m":1.5,"v":0.13,"yr":"Y2001","s":"a"},{"m":1.56,"v":0.19,"yr":"Y2001","s":"a"},{"m":1.62,"v":0.15,"yr":"Y2001","s":"a"},{"m":1.68,"v":0.18,"yr":"Y2001","s":"a"},{"m":1.74,"v":0.2,"yr":"Y2001","s":"a"},{"m":1.8,"v":0.17,"yr":"Y2001","s":"a"},{"m":1.86,"v":0.19,"yr":"Y2001","s":"a"},{"m":1.92,"v":0.22,"yr":"Y2001","s":"a"},{"m":1.98,"v":0.18,"yr":"Y2001","s":"a"},{"m":2.04,"v":0.2,"yr":"Y2001","s":"a"},{"m":2.1,"v":0.17,"yr":"Y2001","s":"a"},{"m":2.16,"v":0.19,"yr":"Y2001","s":"a"},{"m":2.22,"v":0.21,"yr":"Y2001","s":"a"},{"m":2.28,"v":0.18,"yr":"Y2001","s":"a"},{"m":2.34,"v":0.2,"yr":"Y2001","s":"a"},{"m":2.38,"v":0.47,"yr":"Y2001","s":"a"},{"m":2.42,"v":0.2,"yr":"Y2001","s":"a"},{"m":2.48,"v":0.17,"yr":"Y2001","s":"a"},{"m":2.56,"v":0.19,"yr":"Y2001","s":"a"},{"m":2.64,"v":0.16,"yr":"Y2001","s":"a"},{"m":2.72,"v":0.18,"yr":"Y2001","s":"a"},{"m":2.8,"v":0.2,"yr":"Y2001","s":"a"},{"m":2.88,"v":0.17,"yr":"Y2001","s":"a"},{"m":2.96,"v":0.15,"yr":"Y2001","s":"a"},{"m":3.04,"v":0.16,"yr":"Y2001","s":"a"},{"m":3.12,"v":0.14,"yr":"Y2001","s":"a"},{"m":3.2,"v":0.12,"yr":"Y2001","s":"a"},{"m":3.28,"v":0.1,"yr":"Y2001","s":"a"},{"m":3.36,"v":0.09,"yr":"Y2001","s":"a"},{"m":3.44,"v":0.08,"yr":"Y2001","s":"a"},{"m":3.52,"v":0.08,"yr":"Y2001","s":"a"},{"m":3.6,"v":0.09,"yr":"Y2001","s":"a"},{"m":3.68,"v":0.1,"yr":"Y2001","s":"a"},{"m":3.76,"v":0.12,"yr":"Y2001","s":"a"},{"m":3.84,"v":0.09,"yr":"Y2001","s":"a"},{"m":3.92,"v":0.1,"yr":"Y2001","s":"a"},{"m":3.98,"v":0.12,"yr":"Y2001","s":"a"},{"m":4.04,"v":0.2,"yr":"Y2001","s":"a"},{"m":4.08,"v":0.12,"yr":"Y2001","s":"a"},{"m":4.12,"v":0.08,"yr":"Y2001","s":"a"},{"m":4.2,"v":0.08,"yr":"Y2001","s":"a"},{"m":4.35,"v":0.078,"yr":"Y2001","s":"a"},{"m":4.5,"v":0.08,"yr":"Y2001","s":"a"},{"m":4.65,"v":0.082,"yr":"Y2001","s":"a"},{"m":4.8,"v":0.078,"yr":"Y2001","s":"a"},{"m":4.95,"v":0.08,"yr":"Y2001","s":"a"},{"m":5.1,"v":0.083,"yr":"Y2001","s":"a"},{"m":5.25,"v":0.08,"yr":"Y2001","s":"a"},{"m":5.4,"v":0.078,"yr":"Y2001","s":"a"},{"m":5.55,"v":0.082,"yr":"Y2001","s":"a"},{"m":5.7,"v":0.08,"yr":"Y2001","s":"a"},{"m":5.85,"v":0.085,"yr":"Y2001","s":"a"},{"m":6.0,"v":0.08,"yr":"Y2001","s":"a"},{"m":6.15,"v":0.078,"yr":"Y2001","s":"a"},{"m":6.3,"v":0.082,"yr":"Y2001","s":"a"},{"m":6.45,"v":0.08,"yr":"Y2001","s":"a"},{"m":6.6,"v":0.076,"yr":"Y2001","s":"a"},{"m":6.75,"v":0.08,"yr":"Y2001","s":"a"},{"m":6.9,"v":0.078,"yr":"Y2001","s":"a"},{"m":7.05,"v":0.075,"yr":"Y2001","s":"a"},{"m":7.2,"v":0.08,"yr":"Y2001","s":"a"},{"m":7.35,"v":0.078,"yr":"Y2001","s":"a"},{"m":7.5,"v":0.076,"yr":"Y2001","s":"a"},{"m":7.65,"v":0.08,"yr":"Y2001","s":"a"},{"m":7.8,"v":0.078,"yr":"Y2001","s":"a"},{"m":7.95,"v":0.082,"yr":"Y2001","s":"a"},{"m":8.1,"v":0.08,"yr":"Y2001","s":"a"},{"m":8.25,"v":0.078,"yr":"Y2001","s":"a"},{"m":8.4,"v":0.08,"yr":"Y2001","s":"a"},{"m":8.55,"v":0.076,"yr":"Y2001","s":"a"},{"m":8.7,"v":0.078,"yr":"Y2001","s":"a"},{"m":8.85,"v":0.075,"yr":"Y2001","s":"a"},{"m":8.95,"v":0.078,"yr":"Y2001","s":"a"},{"m":9.05,"v":0.08,"yr":"Y2001","s":"a"},{"m":9.12,"v":0.1,"yr":"Y2001","s":"a"},{"m":9.18,"v":0.14,"yr":"Y2001","s":"a"},{"m":9.22,"v":0.26,"yr":"Y2001","s":"a"},{"m":9.26,"v":0.2,"yr":"Y2001","s":"a"},{"m":9.3,"v":0.3,"yr":"Y2001","s":"a"},{"m":9.34,"v":0.22,"yr":"Y2001","s":"a"},{"m":9.38,"v":0.28,"yr":"Y2001","s":"a"},{"m":9.42,"v":0.2,"yr":"Y2001","s":"a"},{"m":9.47,"v":0.47,"yr":"Y2001","s":"a"},{"m":9.51,"v":0.24,"yr":"Y2001","s":"a"},{"m":9.55,"v":0.22,"yr":"Y2001","s":"a"},{"m":9.59,"v":0.45,"yr":"Y2001","s":"a"},{"m":9.63,"v":0.35,"yr":"Y2001","s":"a"},{"m":9.68,"v":0.38,"yr":"Y2001","s":"a"},{"m":9.72,"v":0.25,"yr":"Y2001","s":"a"},{"m":9.76,"v":0.2,"yr":"Y2001","s":"a"},
{"m":10.02,"v":0.27,"yr":"Y2001","s":"b"},{"m":10.06,"v":0.34,"yr":"Y2001","s":"b"},{"m":10.1,"v":0.3,"yr":"Y2001","s":"b"},
{"m":11.86,"v":0.44,"yr":"Y2001","s":"c"},{"m":11.9,"v":0.3,"yr":"Y2001","s":"c"},{"m":11.93,"v":0.24,"yr":"Y2001","s":"c"},{"m":11.96,"v":0.18,"yr":"Y2001","s":"c"},{"m":11.99,"v":0.28,"yr":"Y2001","s":"c"},
{"m":0.02,"v":0.3,"yr":"Y2002","s":"a"},{"m":0.06,"v":0.26,"yr":"Y2002","s":"a"},{"m":0.1,"v":0.24,"yr":"Y2002","s":"a"},{"m":0.14,"v":0.22,"yr":"Y2002","s":"a"},{"m":0.18,"v":0.21,"yr":"Y2002","s":"a"},{"m":0.24,"v":0.2,"yr":"Y2002","s":"a"},{"m":0.3,"v":0.19,"yr":"Y2002","s":"a"},{"m":0.36,"v":0.18,"yr":"Y2002","s":"a"},{"m":0.42,"v":0.2,"yr":"Y2002","s":"a"},{"m":0.48,"v":0.17,"yr":"Y2002","s":"a"},{"m":0.54,"v":0.19,"yr":"Y2002","s":"a"},{"m":0.6,"v":0.18,"yr":"Y2002","s":"a"},{"m":0.66,"v":0.21,"yr":"Y2002","s":"a"},{"m":0.72,"v":0.17,"yr":"Y2002","s":"a"},{"m":0.78,"v":0.22,"yr":"Y2002","s":"a"},{"m":0.84,"v":0.2,"yr":"Y2002","s":"a"},{"m":0.9,"v":0.25,"yr":"Y2002","s":"a"},{"m":0.96,"v":0.21,"yr":"Y2002","s":"a"},{"m":1.02,"v":0.19,"yr":"Y2002","s":"a"},{"m":1.08,"v":0.23,"yr":"Y2002","s":"a"},{"m":1.14,"v":0.18,"yr":"Y2002","s":"a"},{"m":1.2,"v":0.17,"yr":"Y2002","s":"a"},{"m":1.26,"v":0.19,"yr":"Y2002","s":"a"},{"m":1.32,"v":0.22,"yr":"Y2002","s":"a"},{"m":1.38,"v":0.18,"yr":"Y2002","s":"a"},{"m":1.44,"v":0.2,"yr":"Y2002","s":"a"},{"m":1.5,"v":0.17,"yr":"Y2002","s":"a"},{"m":1.56,"v":0.19,"yr":"Y2002","s":"a"},{"m":1.62,"v":0.21,"yr":"Y2002","s":"a"},{"m":1.68,"v":0.18,"yr":"Y2002","s":"a"},{"m":1.74,"v":0.2,"yr":"Y2002","s":"a"},{"m":1.8,"v":0.22,"yr":"Y2002","s":"a"},{"m":1.86,"v":0.19,"yr":"Y2002","s":"a"},{"m":1.92,"v":0.21,"yr":"Y2002","s":"a"},{"m":1.98,"v":0.23,"yr":"Y2002","s":"a"},{"m":2.04,"v":0.2,"yr":"Y2002","s":"a"},{"m":2.1,"v":0.24,"yr":"Y2002","s":"a"},{"m":2.16,"v":0.21,"yr":"Y2002","s":"a"},{"m":2.22,"v":0.23,"yr":"Y2002","s":"a"},{"m":2.28,"v":0.2,"yr":"Y2002","s":"a"},{"m":2.34,"v":0.22,"yr":"Y2002","s":"a"},{"m":2.4,"v":0.19,"yr":"Y2002","s":"a"},{"m":2.46,"v":0.21,"yr":"Y2002","s":"a"},{"m":2.52,"v":0.23,"yr":"Y2002","s":"a"},{"m":2.58,"v":0.2,"yr":"Y2002","s":"a"},{"m":2.64,"v":0.22,"yr":"Y2002","s":"a"},{"m":2.7,"v":0.19,"yr":"Y2002","s":"a"},{"m":2.76,"v":0.21,"yr":"Y2002","s":"a"},{"m":2.82,"v":0.2,"yr":"Y2002","s":"a"},{"m":2.88,"v":0.23,"yr":"Y2002","s":"a"},{"m":2.94,"v":0.19,"yr":"Y2002","s":"a"},{"m":3.0,"v":0.2,"yr":"Y2002","s":"a"},{"m":3.06,"v":0.22,"yr":"Y2002","s":"a"},{"m":3.12,"v":0.25,"yr":"Y2002","s":"a"},{"m":3.18,"v":0.22,"yr":"Y2002","s":"a"},{"m":3.24,"v":0.27,"yr":"Y2002","s":"a"},{"m":3.3,"v":0.24,"yr":"Y2002","s":"a"},{"m":3.36,"v":0.26,"yr":"Y2002","s":"a"},{"m":3.42,"v":0.22,"yr":"Y2002","s":"a"},{"m":3.48,"v":0.25,"yr":"Y2002","s":"a"},{"m":3.54,"v":0.23,"yr":"Y2002","s":"a"},{"m":3.6,"v":0.27,"yr":"Y2002","s":"a"},{"m":3.66,"v":0.24,"yr":"Y2002","s":"a"},{"m":3.72,"v":0.24,"yr":"Y2002","s":"a"},{"m":3.8,"v":0.22,"yr":"Y2002","s":"a"},{"m":3.86,"v":0.17,"yr":"Y2002","s":"a"},{"m":3.9,"v":0.15,"yr":"Y2002","s":"a"},{"m":3.96,"v":0.11,"yr":"Y2002","s":"a"},{"m":4.02,"v":0.09,"yr":"Y2002","s":"a"},{"m":4.08,"v":0.08,"yr":"Y2002","s":"a"},{"m":4.16,"v":0.08,"yr":"Y2002","s":"a"},{"m":4.28,"v":0.082,"yr":"Y2002","s":"a"},{"m":4.4,"v":0.08,"yr":"Y2002","s":"a"},{"m":4.52,"v":0.085,"yr":"Y2002","s":"a"},{"m":4.64,"v":0.08,"yr":"Y2002","s":"a"},{"m":4.76,"v":0.082,"yr":"Y2002","s":"a"},{"m":4.88,"v":0.08,"yr":"Y2002","s":"a"},{"m":5.0,"v":0.085,"yr":"Y2002","s":"a"},{"m":5.12,"v":0.082,"yr":"Y2002","s":"a"},{"m":5.24,"v":0.086,"yr":"Y2002","s":"a"},{"m":5.36,"v":0.08,"yr":"Y2002","s":"a"},{"m":5.48,"v":0.084,"yr":"Y2002","s":"a"},{"m":5.6,"v":0.082,"yr":"Y2002","s":"a"},{"m":5.72,"v":0.086,"yr":"Y2002","s":"a"},{"m":5.84,"v":0.08,"yr":"Y2002","s":"a"},{"m":5.96,"v":0.084,"yr":"Y2002","s":"a"},{"m":6.08,"v":0.08,"yr":"Y2002","s":"a"},{"m":6.2,"v":0.082,"yr":"Y2002","s":"a"},{"m":6.32,"v":0.078,"yr":"Y2002","s":"a"},{"m":6.44,"v":0.082,"yr":"Y2002","s":"a"},{"m":6.56,"v":0.08,"yr":"Y2002","s":"a"},{"m":6.68,"v":0.084,"yr":"Y2002","s":"a"},{"m":6.8,"v":0.08,"yr":"Y2002","s":"a"},{"m":6.92,"v":0.082,"yr":"Y2002","s":"a"},{"m":7.04,"v":0.078,"yr":"Y2002","s":"a"},{"m":7.16,"v":0.08,"yr":"Y2002","s":"a"},{"m":7.28,"v":0.082,"yr":"Y2002","s":"a"},{"m":7.4,"v":0.078,"yr":"Y2002","s":"a"},{"m":7.52,"v":0.08,"yr":"Y2002","s":"a"},{"m":7.64,"v":0.082,"yr":"Y2002","s":"a"},{"m":7.76,"v":0.078,"yr":"Y2002","s":"a"},{"m":7.88,"v":0.08,"yr":"Y2002","s":"a"},{"m":8.0,"v":0.082,"yr":"Y2002","s":"a"},{"m":8.12,"v":0.078,"yr":"Y2002","s":"a"},{"m":8.24,"v":0.08,"yr":"Y2002","s":"a"},{"m":8.36,"v":0.078,"yr":"Y2002","s":"a"},{"m":8.4,"v":0.08,"yr":"Y2002","s":"a"},{"m":8.48,"v":0.085,"yr":"Y2002","s":"a"},{"m":8.55,"v":0.09,"yr":"Y2002","s":"a"},{"m":8.6,"v":0.43,"yr":"Y2002","s":"a"},{"m":8.63,"v":0.1,"yr":"Y2002","s":"a"},{"m":8.66,"v":0.44,"yr":"Y2002","s":"a"},{"m":8.7,"v":0.09,"yr":"Y2002","s":"a"},{"m":8.78,"v":0.085,"yr":"Y2002","s":"a"},{"m":8.86,"v":0.09,"yr":"Y2002","s":"a"},{"m":8.94,"v":0.1,"yr":"Y2002","s":"a"},{"m":9.0,"v":0.09,"yr":"Y2002","s":"a"},{"m":9.06,"v":0.11,"yr":"Y2002","s":"a"},{"m":9.12,"v":0.1,"yr":"Y2002","s":"a"},{"m":9.18,"v":0.15,"yr":"Y2002","s":"a"},{"m":9.22,"v":0.3,"yr":"Y2002","s":"a"},{"m":9.25,"v":0.12,"yr":"Y2002","s":"a"},{"m":9.3,"v":0.2,"yr":"Y2002","s":"a"},{"m":9.34,"v":0.22,"yr":"Y2002","s":"a"},{"m":9.38,"v":0.12,"yr":"Y2002","s":"a"},{"m":9.44,"v":0.11,"yr":"Y2002","s":"a"},{"m":9.52,"v":0.1,"yr":"Y2002","s":"a"},{"m":9.6,"v":0.11,"yr":"Y2002","s":"a"},{"m":9.68,"v":0.1,"yr":"Y2002","s":"a"},{"m":9.76,"v":0.11,"yr":"Y2002","s":"a"},{"m":9.84,"v":0.1,"yr":"Y2002","s":"a"},{"m":9.92,"v":0.09,"yr":"Y2002","s":"a"},{"m":10.0,"v":0.1,"yr":"Y2002","s":"a"},{"m":10.08,"v":0.09,"yr":"Y2002","s":"a"},{"m":10.16,"v":0.08,"yr":"Y2002","s":"a"},{"m":10.22,"v":0.09,"yr":"Y2002","s":"a"},{"m":10.27,"v":0.49,"yr":"Y2002","s":"a"},{"m":10.31,"v":0.3,"yr":"Y2002","s":"a"},{"m":10.35,"v":0.4,"yr":"Y2002","s":"a"},{"m":10.39,"v":0.2,"yr":"Y2002","s":"a"},{"m":10.43,"v":0.45,"yr":"Y2002","s":"a"},{"m":10.47,"v":0.38,"yr":"Y2002","s":"a"},{"m":10.51,"v":0.22,"yr":"Y2002","s":"a"},{"m":10.55,"v":0.3,"yr":"Y2002","s":"a"},{"m":10.6,"v":0.18,"yr":"Y2002","s":"a"},{"m":10.65,"v":0.2,"yr":"Y2002","s":"a"},{"m":10.7,"v":0.15,"yr":"Y2002","s":"a"},{"m":10.76,"v":0.16,"yr":"Y2002","s":"a"},{"m":10.8,"v":0.3,"yr":"Y2002","s":"a"},{"m":10.85,"v":0.35,"yr":"Y2002","s":"a"},{"m":10.9,"v":0.18,"yr":"Y2002","s":"a"},{"m":10.95,"v":0.24,"yr":"Y2002","s":"a"},{"m":11.0,"v":0.12,"yr":"Y2002","s":"a"},{"m":11.05,"v":0.15,"yr":"Y2002","s":"a"},{"m":11.1,"v":0.12,"yr":"Y2002","s":"a"},{"m":11.15,"v":0.14,"yr":"Y2002","s":"a"},{"m":11.2,"v":0.26,"yr":"Y2002","s":"a"},{"m":11.25,"v":0.13,"yr":"Y2002","s":"a"},{"m":11.28,"v":0.12,"yr":"Y2002","s":"a"},
{"m":0.02,"v":0.35,"yr":"Y2003","s":"a"},{"m":0.06,"v":0.28,"yr":"Y2003","s":"a"},{"m":0.1,"v":0.25,"yr":"Y2003","s":"a"},{"m":0.14,"v":0.22,"yr":"Y2003","s":"a"},{"m":0.2,"v":0.23,"yr":"Y2003","s":"a"},{"m":0.26,"v":0.24,"yr":"Y2003","s":"a"},{"m":0.32,"v":0.2,"yr":"Y2003","s":"a"},{"m":0.38,"v":0.22,"yr":"Y2003","s":"a"},{"m":0.44,"v":0.21,"yr":"Y2003","s":"a"},{"m":0.5,"v":0.26,"yr":"Y2003","s":"a"},{"m":0.54,"v":0.38,"yr":"Y2003","s":"a"},{"m":0.58,"v":0.43,"yr":"Y2003","s":"a"},{"m":0.62,"v":0.25,"yr":"Y2003","s":"a"},{"m":0.66,"v":0.22,"yr":"Y2003","s":"a"},{"m":0.72,"v":0.19,"yr":"Y2003","s":"a"},{"m":0.78,"v":0.21,"yr":"Y2003","s":"a"},{"m":0.84,"v":0.2,"yr":"Y2003","s":"a"},{"m":0.9,"v":0.23,"yr":"Y2003","s":"a"},{"m":0.96,"v":0.21,"yr":"Y2003","s":"a"},{"m":1.02,"v":0.22,"yr":"Y2003","s":"a"},{"m":1.06,"v":0.19,"yr":"Y2003","s":"a"},{"m":1.1,"v":0.15,"yr":"Y2003","s":"a"},{"m":1.14,"v":0.12,"yr":"Y2003","s":"a"},{"m":1.18,"v":0.11,"yr":"Y2003","s":"a"},{"m":1.24,"v":0.1,"yr":"Y2003","s":"a"},{"m":1.3,"v":0.11,"yr":"Y2003","s":"a"},{"m":1.36,"v":0.1,"yr":"Y2003","s":"a"},{"m":1.42,"v":0.12,"yr":"Y2003","s":"a"},{"m":1.48,"v":0.13,"yr":"Y2003","s":"a"},{"m":1.54,"v":0.12,"yr":"Y2003","s":"a"},{"m":1.6,"v":0.14,"yr":"Y2003","s":"a"},{"m":1.66,"v":0.13,"yr":"Y2003","s":"a"},{"m":1.72,"v":0.12,"yr":"Y2003","s":"a"},{"m":1.78,"v":0.14,"yr":"Y2003","s":"a"},{"m":1.84,"v":0.12,"yr":"Y2003","s":"a"},{"m":1.9,"v":0.11,"yr":"Y2003","s":"a"},{"m":1.96,"v":0.1,"yr":"Y2003","s":"a"},
{"m":2.1,"v":0.17,"yr":"Y2003","s":"b"},{"m":2.16,"v":0.15,"yr":"Y2003","s":"b"},{"m":2.22,"v":0.16,"yr":"Y2003","s":"b"},{"m":2.28,"v":0.18,"yr":"Y2003","s":"b"},{"m":2.34,"v":0.15,"yr":"Y2003","s":"b"},{"m":2.4,"v":0.16,"yr":"Y2003","s":"b"},{"m":2.46,"v":0.14,"yr":"Y2003","s":"b"},{"m":2.52,"v":0.17,"yr":"Y2003","s":"b"},{"m":2.58,"v":0.16,"yr":"Y2003","s":"b"},{"m":2.64,"v":0.15,"yr":"Y2003","s":"b"},{"m":2.7,"v":0.17,"yr":"Y2003","s":"b"},{"m":2.76,"v":0.14,"yr":"Y2003","s":"b"},{"m":2.82,"v":0.16,"yr":"Y2003","s":"b"},{"m":2.88,"v":0.15,"yr":"Y2003","s":"b"},{"m":2.94,"v":0.17,"yr":"Y2003","s":"b"},{"m":3.0,"v":0.14,"yr":"Y2003","s":"b"},{"m":3.06,"v":0.15,"yr":"Y2003","s":"b"},{"m":3.12,"v":0.13,"yr":"Y2003","s":"b"},{"m":3.18,"v":0.12,"yr":"Y2003","s":"b"},{"m":3.24,"v":0.1,"yr":"Y2003","s":"b"},{"m":3.3,"v":0.09,"yr":"Y2003","s":"b"},{"m":3.36,"v":0.08,"yr":"Y2003","s":"b"},{"m":3.44,"v":0.08,"yr":"Y2003","s":"b"},{"m":3.52,"v":0.08,"yr":"Y2003","s":"b"},{"m":3.64,"v":0.082,"yr":"Y2003","s":"b"},{"m":3.76,"v":0.08,"yr":"Y2003","s":"b"},{"m":3.88,"v":0.078,"yr":"Y2003","s":"b"},{"m":4.0,"v":0.08,"yr":"Y2003","s":"b"},{"m":4.12,"v":0.082,"yr":"Y2003","s":"b"},{"m":4.24,"v":0.08,"yr":"Y2003","s":"b"},{"m":4.36,"v":0.083,"yr":"Y2003","s":"b"},{"m":4.48,"v":0.08,"yr":"Y2003","s":"b"},{"m":4.6,"v":0.082,"yr":"Y2003","s":"b"},{"m":4.72,"v":0.079,"yr":"Y2003","s":"b"},{"m":4.84,"v":0.082,"yr":"Y2003","s":"b"},{"m":4.96,"v":0.08,"yr":"Y2003","s":"b"},{"m":5.08,"v":0.083,"yr":"Y2003","s":"b"},{"m":5.2,"v":0.08,"yr":"Y2003","s":"b"},{"m":5.32,"v":0.084,"yr":"Y2003","s":"b"},{"m":5.44,"v":0.081,"yr":"Y2003","s":"b"},{"m":5.56,"v":0.083,"yr":"Y2003","s":"b"},{"m":5.68,"v":0.08,"yr":"Y2003","s":"b"},{"m":5.8,"v":0.084,"yr":"Y2003","s":"b"},{"m":5.92,"v":0.081,"yr":"Y2003","s":"b"},{"m":6.04,"v":0.083,"yr":"Y2003","s":"b"},{"m":6.16,"v":0.08,"yr":"Y2003","s":"b"},{"m":6.28,"v":0.082,"yr":"Y2003","s":"b"},{"m":6.4,"v":0.079,"yr":"Y2003","s":"b"},{"m":6.52,"v":0.082,"yr":"Y2003","s":"b"},{"m":6.64,"v":0.08,"yr":"Y2003","s":"b"},{"m":6.76,"v":0.083,"yr":"Y2003","s":"b"},{"m":6.88,"v":0.08,"yr":"Y2003","s":"b"},{"m":7.0,"v":0.082,"yr":"Y2003","s":"b"},{"m":7.12,"v":0.08,"yr":"Y2003","s":"b"},{"m":7.24,"v":0.084,"yr":"Y2003","s":"b"},{"m":7.36,"v":0.08,"yr":"Y2003","s":"b"},{"m":7.48,"v":0.083,"yr":"Y2003","s":"b"},{"m":7.6,"v":0.081,"yr":"Y2003","s":"b"},{"m":7.72,"v":0.085,"yr":"Y2003","s":"b"},{"m":7.84,"v":0.08,"yr":"Y2003","s":"b"},{"m":7.96,"v":0.084,"yr":"Y2003","s":"b"},{"m":8.08,"v":0.08,"yr":"Y2003","s":"b"},{"m":8.2,"v":0.082,"yr":"Y2003","s":"b"},{"m":8.3,"v":0.08,"yr":"Y2003","s":"b"},{"m":8.35,"v":0.3,"yr":"Y2003","s":"b"},{"m":8.4,"v":0.08,"yr":"Y2003","s":"b"},{"m":8.48,"v":0.09,"yr":"Y2003","s":"b"},{"m":8.58,"v":0.1,"yr":"Y2003","s":"b"},{"m":8.62,"v":0.48,"yr":"Y2003","s":"b"},{"m":8.66,"v":0.2,"yr":"Y2003","s":"b"},{"m":8.7,"v":0.1,"yr":"Y2003","s":"b"},{"m":8.78,"v":0.09,"yr":"Y2003","s":"b"},{"m":8.86,"v":0.1,"yr":"Y2003","s":"b"},{"m":8.94,"v":0.09,"yr":"Y2003","s":"b"},{"m":9.0,"v":0.1,"yr":"Y2003","s":"b"},{"m":9.08,"v":0.09,"yr":"Y2003","s":"b"},{"m":9.16,"v":0.1,"yr":"Y2003","s":"b"},{"m":9.24,"v":0.09,"yr":"Y2003","s":"b"},{"m":9.3,"v":0.1,"yr":"Y2003","s":"b"},
{"m":10.0,"v":0.29,"yr":"Y2003","s":"c"},{"m":10.04,"v":0.22,"yr":"Y2003","s":"c"},{"m":10.08,"v":0.24,"yr":"Y2003","s":"c"},{"m":10.12,"v":0.32,"yr":"Y2003","s":"c"},{"m":10.16,"v":0.28,"yr":"Y2003","s":"c"},{"m":10.2,"v":0.2,"yr":"Y2003","s":"c"},
{"m":11.28,"v":0.3,"yr":"Y2003","s":"d"},{"m":11.31,"v":0.38,"yr":"Y2003","s":"d"},{"m":11.34,"v":0.31,"yr":"Y2003","s":"d"},{"m":11.38,"v":0.38,"yr":"Y2003","s":"d"},{"m":11.42,"v":0.36,"yr":"Y2003","s":"d"},{"m":11.45,"v":0.47,"yr":"Y2003","s":"d"},{"m":11.48,"v":0.38,"yr":"Y2003","s":"d"},{"m":11.52,"v":0.4,"yr":"Y2003","s":"d"},{"m":11.56,"v":0.37,"yr":"Y2003","s":"d"},{"m":11.6,"v":0.39,"yr":"Y2003","s":"d"},{"m":11.64,"v":0.42,"yr":"Y2003","s":"d"},{"m":11.68,"v":0.37,"yr":"Y2003","s":"d"},
{"m":0.24,"v":0.3,"yr":"Y2004","s":"a"},{"m":0.27,"v":0.49,"yr":"Y2004","s":"a"},{"m":0.3,"v":0.28,"yr":"Y2004","s":"a"},{"m":0.33,"v":0.42,"yr":"Y2004","s":"a"},{"m":0.36,"v":0.3,"yr":"Y2004","s":"a"},{"m":0.4,"v":0.22,"yr":"Y2004","s":"a"},{"m":0.46,"v":0.2,"yr":"Y2004","s":"a"},{"m":0.52,"v":0.24,"yr":"Y2004","s":"a"},{"m":0.58,"v":0.22,"yr":"Y2004","s":"a"},{"m":0.64,"v":0.2,"yr":"Y2004","s":"a"},{"m":0.7,"v":0.23,"yr":"Y2004","s":"a"},{"m":0.76,"v":0.21,"yr":"Y2004","s":"a"},{"m":0.82,"v":0.19,"yr":"Y2004","s":"a"},{"m":0.88,"v":0.24,"yr":"Y2004","s":"a"},{"m":0.94,"v":0.22,"yr":"Y2004","s":"a"},{"m":1.0,"v":0.2,"yr":"Y2004","s":"a"},{"m":1.06,"v":0.23,"yr":"Y2004","s":"a"},{"m":1.12,"v":0.21,"yr":"Y2004","s":"a"},{"m":1.18,"v":0.19,"yr":"Y2004","s":"a"},{"m":1.24,"v":0.22,"yr":"Y2004","s":"a"},{"m":1.3,"v":0.2,"yr":"Y2004","s":"a"},{"m":1.36,"v":0.26,"yr":"Y2004","s":"a"},{"m":1.42,"v":0.38,"yr":"Y2004","s":"a"},{"m":1.46,"v":0.43,"yr":"Y2004","s":"a"},{"m":1.5,"v":0.4,"yr":"Y2004","s":"a"},{"m":1.54,"v":0.42,"yr":"Y2004","s":"a"},{"m":1.58,"v":0.37,"yr":"Y2004","s":"a"},{"m":1.62,"v":0.34,"yr":"Y2004","s":"a"},{"m":1.66,"v":0.26,"yr":"Y2004","s":"a"},{"m":1.7,"v":0.22,"yr":"Y2004","s":"a"},{"m":1.76,"v":0.2,"yr":"Y2004","s":"a"},{"m":1.82,"v":0.23,"yr":"Y2004","s":"a"},{"m":1.88,"v":0.19,"yr":"Y2004","s":"a"},{"m":1.94,"v":0.21,"yr":"Y2004","s":"a"},{"m":2.0,"v":0.18,"yr":"Y2004","s":"a"},{"m":2.06,"v":0.22,"yr":"Y2004","s":"a"},{"m":2.1,"v":0.48,"yr":"Y2004","s":"a"},{"m":2.14,"v":0.26,"yr":"Y2004","s":"a"},{"m":2.18,"v":0.19,"yr":"Y2004","s":"a"},{"m":2.24,"v":0.17,"yr":"Y2004","s":"a"},{"m":2.3,"v":0.2,"yr":"Y2004","s":"a"},{"m":2.36,"v":0.16,"yr":"Y2004","s":"a"},{"m":2.42,"v":0.19,"yr":"Y2004","s":"a"},{"m":2.48,"v":0.22,"yr":"Y2004","s":"a"},{"m":2.52,"v":0.48,"yr":"Y2004","s":"a"},{"m":2.56,"v":0.22,"yr":"Y2004","s":"a"},{"m":2.62,"v":0.18,"yr":"Y2004","s":"a"},{"m":2.68,"v":0.21,"yr":"Y2004","s":"a"},{"m":2.74,"v":0.17,"yr":"Y2004","s":"a"},{"m":2.8,"v":0.2,"yr":"Y2004","s":"a"},{"m":2.86,"v":0.5,"yr":"Y2004","s":"a"},{"m":2.9,"v":0.22,"yr":"Y2004","s":"a"},{"m":2.96,"v":0.18,"yr":"Y2004","s":"a"},{"m":3.02,"v":0.37,"yr":"Y2004","s":"a"},{"m":3.06,"v":0.16,"yr":"Y2004","s":"a"},{"m":3.12,"v":0.19,"yr":"Y2004","s":"a"},{"m":3.18,"v":0.22,"yr":"Y2004","s":"a"},{"m":3.24,"v":0.25,"yr":"Y2004","s":"a"},{"m":3.28,"v":0.18,"yr":"Y2004","s":"a"},{"m":3.34,"v":0.14,"yr":"Y2004","s":"a"},{"m":3.4,"v":0.12,"yr":"Y2004","s":"a"},{"m":3.46,"v":0.1,"yr":"Y2004","s":"a"},{"m":3.52,"v":0.09,"yr":"Y2004","s":"a"},{"m":3.6,"v":0.08,"yr":"Y2004","s":"a"},{"m":3.7,"v":0.082,"yr":"Y2004","s":"a"},{"m":3.82,"v":0.08,"yr":"Y2004","s":"a"},{"m":3.94,"v":0.083,"yr":"Y2004","s":"a"},{"m":4.06,"v":0.08,"yr":"Y2004","s":"a"},{"m":4.18,"v":0.082,"yr":"Y2004","s":"a"},{"m":4.3,"v":0.08,"yr":"Y2004","s":"a"},{"m":4.42,"v":0.083,"yr":"Y2004","s":"a"},{"m":4.54,"v":0.081,"yr":"Y2004","s":"a"},{"m":4.66,"v":0.084,"yr":"Y2004","s":"a"},{"m":4.78,"v":0.08,"yr":"Y2004","s":"a"},{"m":4.9,"v":0.083,"yr":"Y2004","s":"a"},{"m":5.02,"v":0.081,"yr":"Y2004","s":"a"},{"m":5.14,"v":0.085,"yr":"Y2004","s":"a"},{"m":5.26,"v":0.082,"yr":"Y2004","s":"a"},{"m":5.38,"v":0.084,"yr":"Y2004","s":"a"},{"m":5.5,"v":0.081,"yr":"Y2004","s":"a"},{"m":5.62,"v":0.085,"yr":"Y2004","s":"a"},{"m":5.74,"v":0.083,"yr":"Y2004","s":"a"},{"m":5.86,"v":0.086,"yr":"Y2004","s":"a"},{"m":5.98,"v":0.082,"yr":"Y2004","s":"a"},{"m":6.1,"v":0.085,"yr":"Y2004","s":"a"},{"m":6.22,"v":0.083,"yr":"Y2004","s":"a"},{"m":6.34,"v":0.087,"yr":"Y2004","s":"a"},{"m":6.46,"v":0.084,"yr":"Y2004","s":"a"},{"m":6.58,"v":0.086,"yr":"Y2004","s":"a"},{"m":6.7,"v":0.083,"yr":"Y2004","s":"a"},{"m":6.82,"v":0.087,"yr":"Y2004","s":"a"},{"m":6.94,"v":0.085,"yr":"Y2004","s":"a"},{"m":7.06,"v":0.088,"yr":"Y2004","s":"a"},{"m":7.18,"v":0.085,"yr":"Y2004","s":"a"},{"m":7.3,"v":0.095,"yr":"Y2004","s":"a"},{"m":7.36,"v":0.086,"yr":"Y2004","s":"a"},{"m":7.48,"v":0.089,"yr":"Y2004","s":"a"},{"m":7.6,"v":0.086,"yr":"Y2004","s":"a"},{"m":7.72,"v":0.09,"yr":"Y2004","s":"a"},{"m":7.84,"v":0.087,"yr":"Y2004","s":"a"},{"m":7.96,"v":0.092,"yr":"Y2004","s":"a"},{"m":8.04,"v":0.1,"yr":"Y2004","s":"a"},{"m":8.1,"v":0.088,"yr":"Y2004","s":"a"},{"m":8.22,"v":0.091,"yr":"Y2004","s":"a"},{"m":8.34,"v":0.088,"yr":"Y2004","s":"a"},{"m":8.44,"v":0.09,"yr":"Y2004","s":"a"},{"m":8.5,"v":0.09,"yr":"Y2004","s":"a"},{"m":8.56,"v":0.12,"yr":"Y2004","s":"a"},{"m":8.62,"v":0.1,"yr":"Y2004","s":"a"},{"m":8.68,"v":0.3,"yr":"Y2004","s":"a"},{"m":8.72,"v":0.38,"yr":"Y2004","s":"a"},{"m":8.76,"v":0.2,"yr":"Y2004","s":"a"},{"m":8.8,"v":0.3,"yr":"Y2004","s":"a"},{"m":8.84,"v":0.4,"yr":"Y2004","s":"a"},{"m":8.88,"v":0.28,"yr":"Y2004","s":"a"},{"m":8.92,"v":0.35,"yr":"Y2004","s":"a"}
]
},
"spacing": 16,
"bounds": "flush",
"resolve": {"scale": {"color": "independent"}},
"vconcat": [
{
 "width": 387, "height": 242,
 "resolve": {"axis": {"x": "independent", "y": "independent"}},
 "layer": [
  {
   "data": {"name": "burned"},
   "mark": {"type": "line", "strokeWidth": 1.5},
   "encoding": {
    "x": {"field": "m", "type": "quantitative", "scale": {"domain": [0, 12], "nice": false, "zero": false}, "axis": {"orient": "bottom", "values": [1,2,3,4,5,6,7,8,9,10,11], "tickSize": -7, "labels": false, "title": null}},
    "y": {"field": "v", "type": "quantitative", "scale": {"domain": [0, 1], "nice": false, "zero": false}, "axis": {"orient": "left", "values": [0,0.2,0.4,0.6,0.8,1], "format": ".1f", "tickSize": 5, "labelPadding": 2, "title": "Albedo (unitless)", "titleX": -55, "titleY": 230, "titleAngle": 270, "titleAlign": "center", "titleBaseline": "middle", "titleFontSize": 21}},
    "color": {"field": "yr", "type": "nominal", "scale": {"domain": ["Y2000","Y2001","Y2002","Y2003","Y2004"], "range": ["#e8282b","#f4b122","#8dc641","#1aa79d","#2272c3"]}, "legend": null},
    "detail": {"field": "s"}
   }
  },
  {
   "data": {"values": [{"x1": 0.42, "x2": 12, "y1": 0.814, "y2": 1.05}]},
   "mark": {"type": "rect", "fill": "#b9dfe1"},
   "encoding": {
    "x": {"field": "x1", "type": "quantitative", "scale": {"domain": [0, 12], "nice": false, "zero": false}, "axis": {"orient": "top", "values": [1,2,3,4,5,6,7,8,9,10,11], "tickSize": -7, "labels": false, "title": null}},
    "x2": {"field": "x2"},
    "y": {"field": "y2", "type": "quantitative", "scale": {"domain": [0, 1], "nice": false, "zero": false}, "axis": {"orient": "right", "values": [0.1,0.2,0.3,0.4,0.5,0.6,0.7,0.8,0.9], "tickSize": -5, "labels": false, "title": null}},
    "y2": {"field": "y1"}
   }
  },
  {
   "data": {"values": [{"tx": 1.01, "ty": 0.888, "label": "after Donnelly Flat fire"}]},
   "mark": {"type": "text", "align": "left", "baseline": "alphabetic", "font": "DejaVu Serif", "fontWeight": "bold", "fontSize": 24.5, "color": "black"},
   "encoding": {
    "x": {"field": "tx", "type": "quantitative", "scale": {"domain": [0, 12], "nice": false, "zero": false}, "axis": null},
    "y": {"field": "ty", "type": "quantitative", "scale": {"domain": [0, 1], "nice": false, "zero": false}, "axis": {"orient": "left", "values": [0.1,0.3,0.5,0.7,0.9], "tickSize": -5, "labels": false, "domain": false, "title": null}},
    "text": {"field": "label"}
   }
  }
 ]
},
{
 "width": 387, "height": 243,
 "resolve": {"axis": {"x": "independent", "y": "independent"}},
 "layer": [
  {
   "data": {"name": "control"},
   "mark": {"type": "line", "strokeWidth": 1.5},
   "encoding": {
    "x": {"field": "m", "type": "quantitative", "scale": {"domain": [0, 12], "nice": false, "zero": false}, "axis": {"orient": "bottom", "values": [1,2,3,4,5,6,7,8,9,10,11], "tickSize": -7, "labels": false, "title": null}},
    "y": {"field": "v", "type": "quantitative", "scale": {"domain": [0, 1], "nice": false, "zero": false}, "axis": {"orient": "left", "values": [0,0.2,0.4,0.6,0.8,1], "format": ".1f", "tickSize": 5, "labelPadding": 2, "title": null}},
    "color": {"field": "yr", "type": "nominal", "scale": {"domain": ["Y2000","Y2001","Y2002","Y2003","Y2004"], "range": ["#e8282b","#f4b122","#8dc641","#1aa79d","#2272c3"]}, "legend": {"orient": "none", "legendX": 297, "legendY": 24, "title": null, "symbolType": "M-3.125,0L3.125,0", "symbolSize": 64, "symbolStrokeWidth": 1.6, "symbolFillColor": "transparent", "labelFont": "Liberation Sans", "labelFontSize": 13.5, "labelColor": "#444444", "labelOffset": 14, "rowPadding": 0}},
    "detail": {"field": "s"}
   }
  },
  {
   "data": {"values": [{"x1": 0.52, "x2": 9.29, "y1": 0.728, "y2": 0.964}]},
   "mark": {"type": "rect", "fill": "#b9dfe1"},
   "encoding": {
    "x": {"field": "x1", "type": "quantitative", "scale": {"domain": [0, 12], "nice": false, "zero": false}, "axis": {"orient": "top", "values": [1,2,3,4,5,6,7,8,9,10,11], "tickSize": -7, "labels": false, "title": null}},
    "x2": {"field": "x2"},
    "y": {"field": "y2", "type": "quantitative", "scale": {"domain": [0, 1], "nice": false, "zero": false}, "axis": {"orient": "right", "values": [0.1,0.2,0.3,0.4,0.5,0.6,0.7,0.8,0.9], "tickSize": -5, "labels": false, "title": null}},
    "y2": {"field": "y1"}
   }
  },
  {
   "data": {"values": [{"tx": 1.14, "ty": 0.8, "label": "no fire (control)"}]},
   "mark": {"type": "text", "align": "left", "baseline": "alphabetic", "font": "DejaVu Serif", "fontWeight": "bold", "fontSize": 24.5, "color": "black"},
   "encoding": {
    "x": {"field": "tx", "type": "quantitative", "scale": {"domain": [0, 12], "nice": false, "zero": false}, "axis": {"orient": "bottom", "values": [0.5,1.5,2.5,3.5,4.5,5.5,6.5,7.5,8.5,9.5,10.5,11.5], "labelExpr": "['J','F','M','A','M','J','J','A','S','O','N','D'][floor(datum.value)]", "ticks": false, "domain": false, "labelFontSize": 18, "labelPadding": 10, "labelFlush": false, "labelOverlap": false, "title": null}},
    "y": {"field": "ty", "type": "quantitative", "scale": {"domain": [0, 1], "nice": false, "zero": false}, "axis": {"orient": "left", "values": [0.1,0.3,0.5,0.7,0.9], "tickSize": -5, "labels": false, "domain": false, "title": null}},
    "text": {"field": "label"}
   }
  }
 ]
}
]
}
